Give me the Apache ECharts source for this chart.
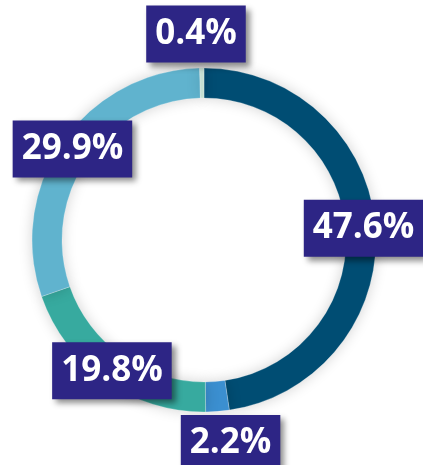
<!DOCTYPE html>
<html>
<head>
<meta charset="utf-8">
<script src="https://cdn.jsdelivr.net/npm/echarts@6/dist/echarts.min.js"></script>
<style>
  html, body { margin: 0; padding: 0; background: #fff; }
  #chart { width: 423px; height: 465px; }
</style>
</head>
<body>
<div id="chart"></div>
<script>
const categories = ['A', 'B', 'C', 'D', 'E']
const values = [47.6, 2.2, 19.8, 29.9, 0.4]
const colors = ['#004d73', '#3b8fd0', '#37aa9f', '#60b3ce', '#c6e0d4']
// label nudges where the labels were moved off the ring
const labelOffsets = [[0, 0], [14, 44], [0, 0], [0, 0], [-6, -46]]

const myChart = echarts.init(document.getElementById('chart'))

const option = {
  backgroundColor: '#ffffff',
  animation: false,
  series: [
    {
      type: 'pie',
      center: [204, 240],
      radius: [142, 172],
      startAngle: 90,
      clockwise: true,
      avoidLabelOverlap: false,
      itemStyle: {
        borderColor: 'rgba(255,255,255,0.5)',
        borderWidth: 0.5,
        shadowBlur: 14,
        shadowColor: 'rgba(0,0,0,0.18)'
      },
      label: {
        show: true,
        position: 'inside',
        formatter: (p) => p.value.toFixed(1) + '%',
        color: '#ffffff',
        fontFamily: 'Open Sans',
        fontWeight: 'bold',
        fontSize: 35,
        lineHeight: 43,
        backgroundColor: '#2d2585',
        padding: [7, 9],
        shadowBlur: 6,
        shadowOffsetX: 4,
        shadowOffsetY: 4,
        shadowColor: 'rgba(0,0,0,0.45)'
      },
      labelLine: { show: false },
      emphasis: { disabled: true },
      data: categories.map((name, i) => ({
        name: name,
        value: values[i],
        itemStyle: { color: colors[i] },
        label: { offset: labelOffsets[i] }
      }))
    }
  ]
}

myChart.setOption(option)
</script>
</body>
</html>
